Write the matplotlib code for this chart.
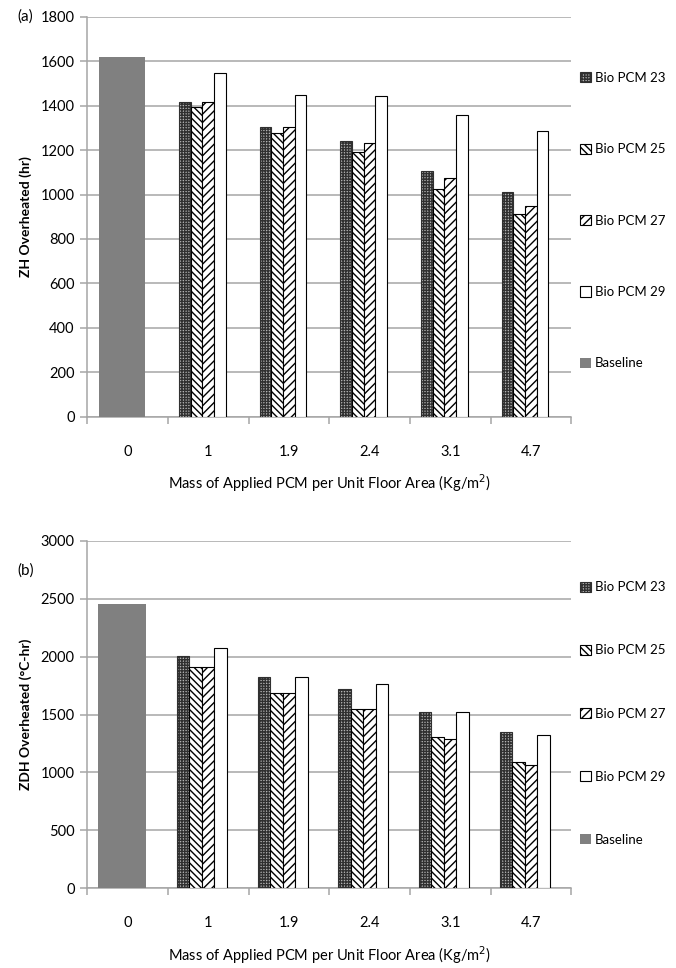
import numpy as np
import matplotlib
matplotlib.use('Agg')
import matplotlib.pyplot as plt
from matplotlib.patches import Patch

plt.rcParams['font.family'] = ['Lato', 'DejaVu Sans']
plt.rcParams['hatch.linewidth'] = 1.0

categories = ['0', '1', '1.9', '2.4', '3.1', '4.7']
series_names = ['Bio PCM 23', 'Bio PCM 25', 'Bio PCM 27', 'Bio PCM 29']

# (a) hours overheated
baseline_zh = 1620
zh_pcm23 = [1415, 1305, 1243, 1105, 1013]
zh_pcm25 = [1395, 1275, 1193, 1023, 912]
zh_pcm27 = [1415, 1305, 1230, 1073, 950]
zh_pcm29 = [1547, 1448, 1442, 1358, 1287]

# (b) degree-hours overheated
baseline_zdh = 2456
zdh_pcm23 = [2008, 1824, 1723, 1524, 1352]
zdh_pcm25 = [1910, 1685, 1550, 1303, 1093]
zdh_pcm27 = [1910, 1685, 1550, 1291, 1067]
zdh_pcm29 = [2071, 1824, 1763, 1524, 1326]

styles = [
    dict(facecolor='#b4b4b4', hatch='++++++', edgecolor='#303030'),
    dict(facecolor='white', hatch='\\\\\\\\\\', edgecolor='black'),
    dict(facecolor='white', hatch='////', edgecolor='black'),
    dict(facecolor='white', hatch='', edgecolor='black'),
]
grey = '#a6a6a6'


def draw_panel(ax, baseline, series, ymax, ystep, ylabel, w, bw, tag, tag_y, lab_sp, leg_y):
    x = np.arange(1, len(categories))
    for i, vals in enumerate(series):
        ax.bar(x + (i - 2) * w, vals, width=w, linewidth=0.8, zorder=3, **styles[i])
    ax.bar([0 - 0.074], [baseline], width=bw, color='#808080', zorder=3)

    ax.set_xlim(-0.5, 5.5)
    ax.set_ylim(0, ymax)
    ax.set_yticks(np.arange(0, ymax + 1, ystep))
    ax.grid(axis='y', color=grey, linewidth=1.1, zorder=0)
    ax.set_xticks(np.arange(len(categories)))
    ax.set_xticklabels(categories)
    ax.set_xticks(np.arange(-0.5, 5.6, 1), minor=True)
    ax.tick_params(axis='x', which='major', length=0, pad=20, labelsize=10.5)
    ax.tick_params(axis='x', which='minor', length=5, color=grey, width=1.1)
    ax.tick_params(axis='y', length=5, color=grey, width=1.1, labelsize=10.5, pad=4)
    for s in ['top', 'right']:
        ax.spines[s].set_visible(False)
    for s in ['left', 'bottom']:
        ax.spines[s].set_color(grey)
        ax.spines[s].set_linewidth(1.1)
    ax.set_ylabel(ylabel, fontweight='bold', fontsize=10, labelpad=6)
    ax.set_xlabel('Mass of Applied PCM per Unit Floor Area (Kg/m$^2$)', fontsize=10.5, labelpad=10)
    ax.text(-0.145, tag_y, tag, transform=ax.transAxes, fontsize=11, va='center')

    handles = [Patch(linewidth=0.8, **st) for st in styles]
    handles.append(Patch(facecolor='#808080', edgecolor='none'))
    ax.legend(handles, series_names + ['Baseline'], loc='upper left',
              bbox_to_anchor=(1.0, leg_y), frameon=False, fontsize=9.5,
              handlelength=0.8, handleheight=0.8, handletextpad=0.3,
              labelspacing=lab_sp, borderaxespad=0.3)


fig = plt.figure(figsize=(6.76, 9.68), dpi=100)
ax1 = fig.add_axes([0.129, 0.5695, 0.716, 0.4132])
ax2 = fig.add_axes([0.129, 0.0823, 0.716, 0.3591])

draw_panel(ax1, baseline_zh, [zh_pcm23, zh_pcm25, zh_pcm27, zh_pcm29],
           1800, 200, 'ZH Overheated (hr)', 0.145, 0.57, '(a)', 1.0, 4.5, 0.885)
draw_panel(ax2, baseline_zdh, [zdh_pcm23, zdh_pcm25, zdh_pcm27, zdh_pcm29],
           3000, 500, 'ZDH Overheated (°C-hr)', 0.155, 0.595, '(b)', 0.915, 3.88, 0.91)

fig.savefig('out.png', dpi=100)
